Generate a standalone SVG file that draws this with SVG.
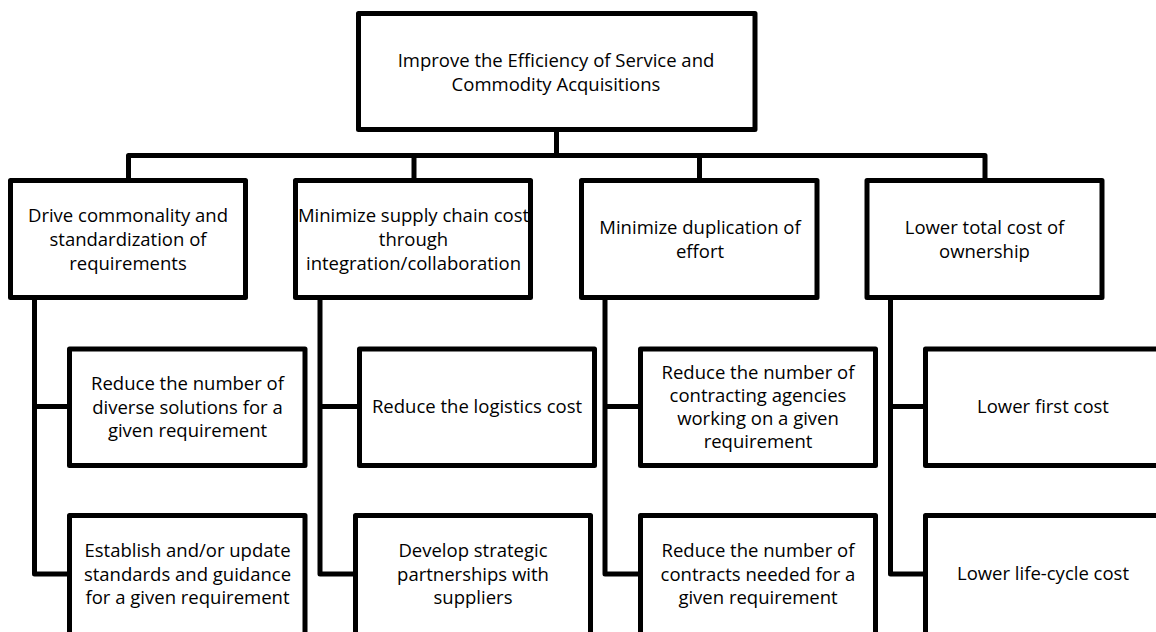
<svg xmlns="http://www.w3.org/2000/svg" width="1156" height="632" viewBox="0 0 1156 632">
  <style>
    .box { fill: #ffffff; stroke: #000000; stroke-width: 5; stroke-linejoin: round; }
    .link { fill: none; stroke: #000000; stroke-width: 5; stroke-linejoin: round; }
    text { font-family: "Open Sans", "Noto Sans", "Liberation Sans", sans-serif; font-size: 18.5px; fill: #000000; text-anchor: middle; }
  </style>
  <rect width="1156" height="632" fill="#ffffff"/>

  <!-- connectors -->
  <g id="connectors">
    <path class="link" d="M556.5 129.5 V155.5"/>
    <path class="link" d="M128.5 180.5 V155.5 H985 V180.5"/>
    <path class="link" d="M414 155.5 V180.5"/>
    <path class="link" d="M699.5 155.5 V180.5"/>
    <!-- column spines -->
    <path class="link" d="M34.5 297.5 V574 H69.5"/>
    <path class="link" d="M34.5 406.5 H69.5"/>
    <path class="link" d="M320 297.5 V574 H355.5"/>
    <path class="link" d="M320 406.5 H359.5"/>
    <path class="link" d="M605 297.5 V574 H640.5"/>
    <path class="link" d="M605 406.5 H640.5"/>
    <path class="link" d="M890.5 297.5 V574 H925.5"/>
    <path class="link" d="M890.5 406.5 H925.5"/>
  </g>

  <!-- root -->
  <g id="root">
    <rect class="box" x="358.5" y="13.5" width="396.5" height="116"/>
    <text x="556" y="67">Improve the Efficiency of Service and</text>
    <text x="556" y="91">Commodity Acquisitions</text>
  </g>

  <!-- level 2 -->
  <g id="goal-commonality">
    <rect class="box" x="10.5" y="180.5" width="235" height="117"/>
    <text x="128" y="222">Drive commonality and</text>
    <text x="128" y="246">standardization of</text>
    <text x="128" y="270">requirements</text>
  </g>
  <g id="goal-supply-chain">
    <rect class="box" x="295.5" y="180.5" width="235" height="117"/>
    <text x="413.5" y="222">Minimize supply chain cost</text>
    <text x="413.5" y="246">through</text>
    <text x="413.5" y="270">integration/collaboration</text>
  </g>
  <g id="goal-duplication">
    <rect class="box" x="581.5" y="180.5" width="235.5" height="117"/>
    <text x="700" y="234">Minimize duplication of</text>
    <text x="700" y="258">effort</text>
  </g>
  <g id="goal-ownership">
    <rect class="box" x="867" y="180.5" width="235" height="117"/>
    <text x="984.5" y="234">Lower total cost of</text>
    <text x="984.5" y="258">ownership</text>
  </g>

  <!-- level 3, column 1 -->
  <g id="reduce-solutions">
    <rect class="box" x="69.5" y="349" width="235.5" height="116.5"/>
    <text x="187.5" y="390">Reduce the number of</text>
    <text x="187.5" y="413.5">diverse solutions for a</text>
    <text x="187.5" y="437">given requirement</text>
  </g>
  <g id="establish-standards">
    <rect class="box" x="69.5" y="515.5" width="235.5" height="125"/>
    <text x="187.5" y="557">Establish and/or update</text>
    <text x="187.5" y="580.5">standards and guidance</text>
    <text x="187.5" y="604">for a given requirement</text>
  </g>

  <!-- level 3, column 2 -->
  <g id="reduce-logistics">
    <rect class="box" x="359.5" y="349" width="235" height="116.5"/>
    <text x="477" y="413">Reduce the logistics cost</text>
  </g>
  <g id="strategic-partnerships">
    <rect class="box" x="355.5" y="515.5" width="235" height="125"/>
    <text x="473" y="557">Develop strategic</text>
    <text x="473" y="580.5">partnerships with</text>
    <text x="473" y="604">suppliers</text>
  </g>

  <!-- level 3, column 3 -->
  <g id="reduce-agencies">
    <rect class="box" x="640.5" y="349" width="235" height="116.5"/>
    <text x="758" y="378.5">Reduce the number of</text>
    <text x="758" y="401.5">contracting agencies</text>
    <text x="758" y="424.5">working on a given</text>
    <text x="758" y="447.5">requirement</text>
  </g>
  <g id="reduce-contracts">
    <rect class="box" x="640.5" y="515.5" width="235" height="125"/>
    <text x="758" y="557">Reduce the number of</text>
    <text x="758" y="580.5">contracts needed for a</text>
    <text x="758" y="604">given requirement</text>
  </g>

  <!-- level 3, column 4 -->
  <g id="lower-first-cost">
    <rect class="box" x="925.5" y="349" width="235" height="116.5"/>
    <text x="1043" y="413">Lower first cost</text>
  </g>
  <g id="lower-life-cycle-cost">
    <rect class="box" x="925.5" y="515.5" width="235" height="125"/>
    <text x="1043" y="580">Lower life-cycle cost</text>
  </g>
</svg>
